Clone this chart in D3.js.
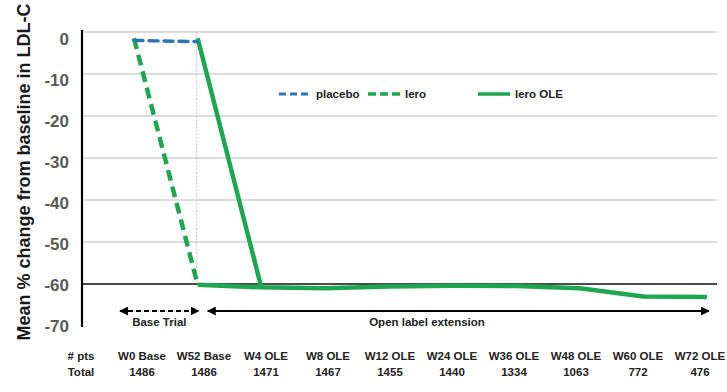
<!DOCTYPE html>
<html><head><meta charset="utf-8">
<script src="https://cdn.jsdelivr.net/npm/d3@7"></script>
<style>
body{margin:0;background:#fff;}
text{font-family:"Liberation Sans",Arial,sans-serif;font-weight:bold;}
</style></head>
<body><svg id="c" width="727" height="392"></svg>
<script>
// ---- data ----
const categories = ["W0 Base","W52 Base","W4 OLE","W8 OLE","W12 OLE","W24 OLE","W36 OLE","W48 OLE","W60 OLE","W72 OLE"];
const totals = [1486,1486,1471,1467,1455,1440,1334,1063,772,476];
const yTicks = [0,-10,-20,-30,-40,-50,-60,-70];
// placebo (base trial), dashed
const placeboCats = ["W0 Base","W52 Base"];
const placeboVals = [-2.0,-2.3];
// lero (base trial), dashed
const leroCats = ["W0 Base","W52 Base"];
const leroVals = [-1.5,-60.2];
// lero continuing into OLE
const leroContCats = ["W52 Base","W4 OLE"];
const leroContVals = [-60.2,-60.8];
// lero OLE (placebo switched to lero) and continued OLE
const oleCats = ["W52 Base","W4 OLE","W8 OLE","W12 OLE","W24 OLE","W36 OLE","W48 OLE","W60 OLE","W72 OLE"];
const oleVals = [-1.5,-60.8,-61.0,-60.6,-60.4,-60.5,-61.0,-63.0,-63.1];

const blue = "#2e75b6", green = "#1fa651";
const svg = d3.select("#c");

const x = d3.scalePoint().domain(categories).range([134,707]);
const xLab = d3.scalePoint().domain(categories).range([142,700]);
const y = d3.scaleLinear().domain([0,-70]).range([32,326]);
const X0 = 82, X1 = 717;

// gridlines
svg.append("g").selectAll("line").data(yTicks.filter(d=>d>-60)).join("line")
  .attr("x1",X0).attr("x2",X1).attr("y1",d=>y(d)).attr("y2",d=>y(d))
  .attr("stroke","#d0d0d0").attr("stroke-width",1.5);
// dotted vertical at W52
svg.append("line").attr("x1",x("W52 Base")-1).attr("x2",x("W52 Base")-1)
  .attr("y1",y(0)).attr("y2",y(-60))
  .attr("stroke","#c4c4c4").attr("stroke-width",1.2).attr("stroke-dasharray","1.5,2");
// -60 line
svg.append("line").attr("x1",X0).attr("x2",X1).attr("y1",y(-60)).attr("y2",y(-60))
  .attr("stroke","#111").attr("stroke-width",1.5);
// y axis line
svg.append("line").attr("x1",X0).attr("x2",X0).attr("y1",y(0)-2).attr("y2",y(-70)+1)
  .attr("stroke","#000").attr("stroke-width",2.2);
// tick labels
svg.append("g").selectAll("text").data(yTicks).join("text")
  .attr("x",69).attr("y",d=>y(d)).attr("dy",d=>(12.5 - (d/-70)*7)+"px")
  .attr("text-anchor","end").attr("font-size",17).attr("fill","#595959")
  .text(d=>d);
// axis title
svg.append("text").attr("transform","translate(30,172) rotate(-90)")
  .attr("text-anchor","middle").attr("font-size",18).attr("fill","#1a1a1a")
  .text("Mean % change from baseline in LDL-C");

// lines
const line = d3.line().x(d=>x(d[0])).y(d=>y(d[1]));
const zip = (c,v)=>c.map((k,i)=>[k,v[i]]);
svg.append("path").datum(zip(leroContCats,leroContVals)).attr("d",line)
  .attr("fill","none").attr("stroke",green).attr("stroke-width",4.5).attr("stroke-linejoin","round");
svg.append("path").datum(zip(oleCats,oleVals)).attr("d",line)
  .attr("fill","none").attr("stroke",green).attr("stroke-width",4.5).attr("stroke-linejoin","round");
svg.append("path").datum(zip(leroCats,leroVals)).attr("d",line)
  .attr("fill","none").attr("stroke",green).attr("stroke-width",4.5).attr("stroke-dasharray","11,6");
svg.append("path").datum(zip(placeboCats,placeboVals)).attr("d",line)
  .attr("fill","none").attr("stroke",blue).attr("stroke-width",3.5).attr("stroke-dasharray","9,6").attr("stroke-linecap","round");

// legend
const leg = [
  {label:"placebo", color:blue, dash:"7,4", w:3, x:279},
  {label:"lero", color:green, dash:"8,4", w:3.5, x:368},
  {label:"lero OLE", color:green, dash:null, w:3.5, x:478}
];
const lg = svg.append("g");
leg.forEach(d=>{
  lg.append("line").attr("x1",d.x).attr("x2",d.x+32).attr("y1",94).attr("y2",94)
    .attr("stroke",d.color).attr("stroke-width",d.w).attr("stroke-dasharray",d.dash);
  lg.append("text").attr("x",d.x+37).attr("y",98).attr("font-size",11.5).attr("fill","#222").text(d.label);
});

// arrows
const defs = svg.append("defs");
defs.append("marker").attr("id","ah").attr("viewBox","0 0 10 10").attr("refX",9).attr("refY",5)
  .attr("markerWidth",9).attr("markerHeight",9).attr("markerUnits","userSpaceOnUse").attr("orient","auto-start-reverse")
  .append("path").attr("d","M0,0L10,5L0,10Z").attr("fill","#000");
const ay = 311;
const btStart = x("W0 Base")-14, btEnd = x("W52 Base")+1;
svg.append("line").attr("x1",btStart).attr("x2",btEnd).attr("y1",ay).attr("y2",ay)
  .attr("stroke","#000").attr("stroke-width",2).attr("stroke-dasharray","5,3")
  .attr("marker-start","url(#ah)").attr("marker-end","url(#ah)");
svg.append("line").attr("x1",x("W52 Base")+10).attr("x2",x("W72 OLE")+2).attr("y1",ay).attr("y2",ay)
  .attr("stroke","#000").attr("stroke-width",2)
  .attr("marker-start","url(#ah)").attr("marker-end","url(#ah)");
svg.append("text").attr("x",(btStart+btEnd)/2).attr("y",326).attr("text-anchor","middle")
  .attr("font-size",11.5).attr("fill","#222").text("Base Trial");
svg.append("text").attr("x",427).attr("y",326).attr("text-anchor","middle")
  .attr("font-size",11.5).attr("fill","#222").text("Open label extension");

// table
const tb = svg.append("g").attr("font-size",11.5).attr("fill","#222");
tb.append("text").attr("x",81).attr("y",360).attr("text-anchor","middle").text("# pts");
tb.append("text").attr("x",81).attr("y",376).attr("text-anchor","middle").text("Total");
tb.selectAll("text.c").data(categories).join("text").attr("class","c")
  .attr("x",d=>xLab(d)).attr("y",360).attr("text-anchor","middle").text(d=>d);
tb.selectAll("text.t").data(totals).join("text").attr("class","t")
  .attr("x",(d,i)=>xLab(categories[i])).attr("y",376).attr("text-anchor","middle").text(d=>d);
</script></body></html>
